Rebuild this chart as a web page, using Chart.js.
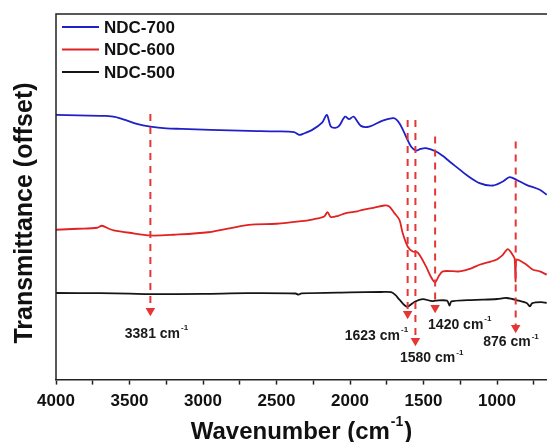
<!DOCTYPE html>
<html>
<head>
<meta charset="utf-8">
<script src="https://cdn.jsdelivr.net/npm/chart.js@4/dist/chart.umd.min.js"></script>
<style>
  html, body { margin: 0; padding: 0; background: #fff; }
  #wrap { width: 547px; height: 442px; }
</style>
</head>
<body>
<div id="wrap"><canvas id="grafica"></canvas></div>
<script>
// spectra (wavenumber, offset transmittance)
const wn700 = [4000, 3850, 3700, 3665, 3600, 3529, 3450, 3358, 3250, 3145, 2950, 2688, 2500, 2381, 2346, 2320, 2257, 2190, 2158, 2130, 2100, 2074, 2033, 2006, 1976, 1926, 1869, 1778, 1710, 1690, 1664, 1640, 1619, 1585, 1551, 1520, 1483, 1414, 1370, 1323, 1260, 1209, 1119, 1028, 960, 914, 868, 800, 709, 662];
const t700 = [265, 264.5, 264, 264, 263, 260, 256, 253.3, 251.5, 251, 250, 249, 248.5, 247.7, 245, 246, 250, 257.3, 265, 253.3, 252, 254, 263.3, 260.7, 263.3, 254, 253.3, 259.3, 261.7, 261, 256.7, 250, 243.3, 233.3, 229.3, 231, 231.7, 228.3, 224, 218.3, 211, 205, 196.7, 194.3, 198.3, 202.7, 200, 195, 190, 185];

const wn600 = [4000, 3850, 3720, 3688, 3640, 3608, 3500, 3358, 3200, 2965, 2688, 2500, 2346, 2250, 2176, 2153, 2130, 2080, 2028, 1950, 1915, 1840, 1767, 1733, 1698, 1664, 1642, 1608, 1574, 1540, 1483, 1450, 1421, 1395, 1369, 1300, 1255, 1180, 1119, 1005, 960, 926, 890, 880, 874, 870, 857, 800, 755, 709, 662];
const t600 = [150, 151, 152, 154, 151, 149.5, 147, 144.3, 145, 147.5, 155, 156, 158.3, 160.5, 163.3, 167.7, 162.7, 164, 166.7, 168.5, 170, 172, 174.3, 173.3, 166.7, 160, 146.7, 133.3, 128.3, 127.3, 113.3, 103, 97.3, 104, 108.3, 108.5, 108.3, 111, 115, 120, 125, 130.7, 124, 120.7, 98.3, 119, 120, 115, 110, 108.3, 105];

const wn500 = [4000, 3700, 3500, 3358, 3000, 2700, 2370, 2350, 2330, 2000, 1788, 1720, 1690, 1664, 1612, 1560, 1507, 1440, 1418, 1340, 1323, 1310, 1200, 1098, 1000, 934, 850, 798, 777, 760, 700, 662];
const t500 = [86.7, 86.5, 86, 85.5, 85.8, 86.5, 86.2, 85, 86.3, 87.3, 87.7, 87.5, 84.5, 80, 73, 78, 80.5, 78.5, 79, 79, 74, 78.3, 79.5, 80, 80.7, 81.7, 79, 76.7, 73.3, 76.5, 77.5, 76.7];

// band markers: x position, top and bottom of the dashed arrow
const peakWn = [3358, 1608, 1555, 1421, 873];
const peakTop = [266, 260, 260, 243.3, 238.3];
const peakEnd = [69, 66, 39, 72, 52];
const peakNames = ["3381", "1623", "1580", "1420", "876"];
// where each label starts (wavenumber of left edge, y)
const labelWn = [3532, 2036, 1660, 1469, 1094];
const labelY = [46, 44, 21, 55, 37];

const seriesNames = ["NDC-700", "NDC-600", "NDC-500"];
const xTicks = [4000, 3500, 3000, 2500, 2000, 1500, 1000];

const FONT = "'Liberation Sans', Arial, sans-serif";

function pts(xs, ys) {
    return xs.map((x, i) => ({ x: x, y: ys[i] }));
}

let spectra = [
    { label: seriesNames[0], data: pts(wn700, t700), borderColor: "#2020c8", backgroundColor: "#2020c8" },
    { label: seriesNames[1], data: pts(wn600, t600), borderColor: "#e12222", backgroundColor: "#e12222" },
    { label: seriesNames[2], data: pts(wn500, t500), borderColor: "#151515", backgroundColor: "#151515" }
].map(d => Object.assign(d, { borderWidth: 1.8, pointRadius: 0, tension: 0.3 }));

let markers = peakWn.map((x, i) => ({
    label: "peak" + peakNames[i],
    data: [{ x: x, y: peakTop[i] }, { x: x, y: peakEnd[i] }],
    borderColor: "#e53535",
    backgroundColor: "#e53535",
    borderWidth: 2,
    borderDash: [7, 6],
    pointRadius: [0, 5.5],
    pointStyle: "triangle",
    rotation: 180,
    pointBorderWidth: 0
}));

function supText(ctx, main, sup, x, y, size) {
    ctx.font = "bold " + size + "px " + FONT;
    ctx.textBaseline = "middle";
    ctx.textAlign = "left";
    ctx.fillText(main, x, y);
    let w = ctx.measureText(main).width;
    ctx.font = "bold " + Math.round(size * 0.6) + "px " + FONT;
    ctx.fillText(sup, x + w + 1, y - size * 0.42);
}

const extras = {
    id: "extras",
    afterDraw(chart) {
        let ctx = chart.ctx;
        let a = chart.chartArea;
        let xs = chart.scales.x, ys = chart.scales.y;
        ctx.save();
        // frame: left and top
        ctx.strokeStyle = "#222";
        ctx.lineWidth = 1.5;
        ctx.beginPath();
        ctx.moveTo(a.left, a.bottom);
        ctx.lineTo(a.left, a.top);
        ctx.lineTo(chart.width, a.top);
        ctx.stroke();

        // legend
        spectra.forEach((d, i) => {
            let y = a.top + 13 + i * 22.5;
            ctx.strokeStyle = d.borderColor;
            ctx.lineWidth = 2;
            ctx.beginPath();
            ctx.moveTo(a.left + 6, y);
            ctx.lineTo(a.left + 43, y);
            ctx.stroke();
            ctx.fillStyle = "#111";
            ctx.font = "bold 17px " + FONT;
            ctx.textBaseline = "middle";
            ctx.textAlign = "left";
            ctx.fillText(d.label, a.left + 48, y + 1);
        });

        // peak labels
        ctx.fillStyle = "#1a1a1a";
        peakNames.forEach((n, i) => {
            supText(ctx, n + " cm", "-1", xs.getPixelForValue(labelWn[i]), ys.getPixelForValue(labelY[i]), 14);
        });

        // axis titles
        ctx.fillStyle = "#111";
        ctx.font = "bold 24px " + FONT;
        let main = "Wavenumber (cm", sup = "-1", tail = ")";
        let w1 = ctx.measureText(main).width;
        ctx.font = "bold 14px " + FONT;
        let w2 = ctx.measureText(sup).width;
        ctx.font = "bold 24px " + FONT;
        let w3 = ctx.measureText(tail).width;
        let x0 = (a.left + a.right) / 2 - (w1 + w2 + w3 + 2) / 2;
        let yT = 432;
        ctx.textBaseline = "middle";
        ctx.textAlign = "left";
        ctx.fillText(main, x0, yT);
        ctx.font = "bold 14px " + FONT;
        ctx.fillText(sup, x0 + w1 + 1, yT - 10);
        ctx.font = "bold 24px " + FONT;
        ctx.fillText(tail, x0 + w1 + w2 + 2, yT);

        ctx.translate(25, 213);
        ctx.rotate(-Math.PI / 2);
        ctx.textAlign = "center";
        ctx.font = "bold 25px " + FONT;
        ctx.fillText("Transmittance (offset)", 0, 0);
        ctx.restore();
    }
};

new Chart(document.getElementById("grafica").getContext("2d"), {
    type: "line",
    data: { datasets: markers.concat(spectra) },
    options: {
        responsive: true,
        maintainAspectRatio: false,
        animation: false,
        events: [],
        layout: { autoPadding: false, padding: { left: 56, top: 14, right: 0, bottom: 23 } },
        plugins: { legend: { display: false }, tooltip: { enabled: false } },
        scales: {
            x: {
                type: "linear",
                reverse: true,
                min: 660,
                max: 4000,
                border: { color: "#222", width: 1.5 },
                grid: { drawOnChartArea: false, tickLength: 5, tickColor: "#222", tickWidth: 1.5 },
                afterFit: s => { s.paddingRight = 0; s.paddingLeft = 0; },
                ticks: {
                    stepSize: 250,
                    includeBounds: false,
                    autoSkip: false,
                    maxRotation: 0,
                    padding: 7,
                    color: "#111",
                    font: { family: FONT, size: 17, weight: "bold" },
                    callback: v => xTicks.includes(v) ? String(v) : ""
                }
            },
            y: { type: "linear", min: 0, max: 366, display: false }
        }
    },
    plugins: [extras]
});
</script>
</body>
</html>
